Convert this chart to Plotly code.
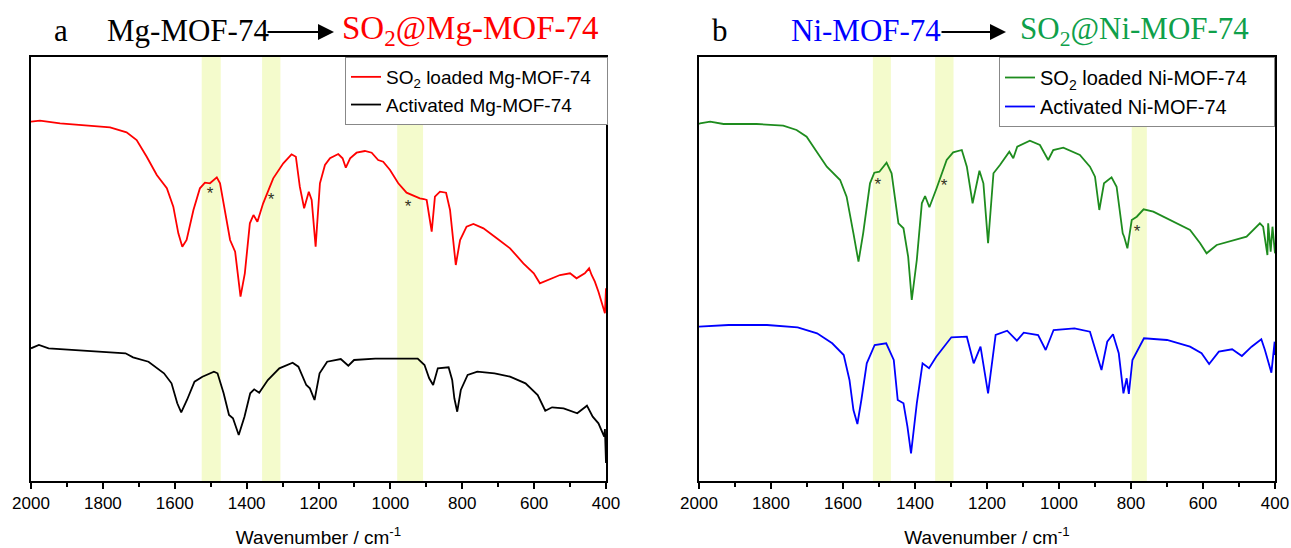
import plotly.graph_objects as go

# ---------------- data (wavenumber / cm-1, transmittance a.u.) ----------------
wn_mg_so2 = [2000, 1975, 1919, 1845, 1780, 1734, 1706, 1678, 1650, 1622, 1604, 1590, 1579, 1567, 1548,
             1530, 1516, 1502, 1483, 1474, 1460, 1446, 1432, 1417, 1405, 1391, 1381, 1370, 1354, 1326,
             1298, 1275, 1263, 1252, 1240, 1227, 1219, 1208, 1196, 1182, 1168, 1145, 1133, 1124, 1112,
             1094, 1071, 1052, 1034, 1020, 1001, 978, 955, 932, 918, 907, 899, 885, 876, 862, 845, 834,
             818, 806, 788, 769, 741, 704, 667, 630, 601, 584, 556, 528, 500, 482, 459, 447, 440, 431,
             421, 412, 403, 400]
t_mg_so2 = [359.3, 360.3, 357.7, 355.7, 353.7, 348.7, 341, 324.3, 306, 292.7, 274.3, 247.7, 234.3, 241, 271,
            292.7, 298.3, 297.7, 303.7, 297.7, 267.7, 241, 229.3, 184.3, 207.7, 257.7, 266, 259.3, 277.7, 302.7,
            317.7, 326.7, 324.3, 294.3, 272.7, 289.3, 281, 234.3, 297.7, 316, 322.7, 327, 322.7, 313.3, 322.7,
            328.3, 330, 328.3, 321, 319.3, 311, 297.7, 288.3, 285, 282.7, 282, 281, 249.3, 284.3, 289.3, 288.3, 271,
            216, 241, 254.3, 257, 252.7, 242.7, 232.7, 217.7, 207.7, 197.7, 201.7, 206, 207.7, 202.7, 207.7, 212.7, 206, 199.3,
            189.3, 179.3, 167.7, 192.7]

wn_mg_act = [2000, 1978, 1951, 1844, 1737, 1716, 1673, 1630, 1609, 1593, 1582, 1566, 1545, 1523, 1491,
             1481, 1464, 1449, 1438, 1422, 1406, 1390, 1379, 1365, 1341, 1309, 1272, 1256, 1234, 1224,
             1211, 1197, 1176, 1138, 1117, 1101, 1042, 924, 905, 892, 881, 868, 838, 828, 822, 814, 804,
             785, 758, 710, 667, 624, 590, 569, 550, 518, 480, 453, 437, 421, 405, 403, 402, 401, 400]
t_mg_act = [132.7, 136, 132.7, 130, 127.7, 123.7, 119.3, 107.7, 97.7, 77.7, 68.7, 81, 99.3, 104.3, 109.3,
            107.7, 87.7, 66, 62.7, 46, 64.3, 87.7, 91.7, 88.3, 101, 112.7, 118.3, 114.3, 96, 92.7,
            81, 107.7, 119.3, 122, 115.3, 121, 122.3, 122.3, 116, 102.7, 96, 112.7, 113.7, 101, 82.7, 69.3, 91,
            106, 109.3, 107.7, 104.3, 97.7, 86, 70.3, 73.7, 72.7, 67.7, 75.3, 64.3, 57.7, 44.3, 52, 40, 30, 18]

wn_ni_so2 = [2000, 1997, 1969, 1932, 1840, 1766, 1729, 1701, 1673, 1645, 1608, 1590, 1571, 1557, 1544,
             1525, 1513, 1499, 1479, 1465, 1446, 1432, 1419, 1409, 1395, 1381, 1372, 1360, 1340, 1312,
             1294, 1270, 1256, 1240, 1221, 1210, 1197, 1182, 1164, 1138, 1127, 1116, 1081, 1053, 1030,
             1016, 988, 942, 914, 900, 888, 875, 854, 840, 823, 819, 810, 798, 784, 765, 738, 682, 636,
             608, 590, 562, 516, 479, 442, 433, 421, 419, 412, 407, 400]
t_ni_so2 = [357, 357.7, 359.3, 357, 357, 355.3, 351, 344.3, 329.3, 314.3, 301, 284.3, 247.7, 219.3, 247.7,
            297.7, 308.3, 309.3, 318.3, 307.7, 257.7, 252.7, 224.3, 181, 221, 277.7, 285, 273.7, 292.7, 321,
            328.7, 331, 314.3, 277.7, 310.3, 297.7, 237.7, 307.7, 316, 329.3, 322.7, 334.3, 340.3, 336, 321,
            331, 333.3, 326, 314.3, 304.3, 271, 297.7, 303.7, 294.3, 247.7, 244.3, 232.7, 261, 264.3, 271.7, 269.3, 259.3, 251,
            237.7, 227.7, 236, 241, 244.3, 257.7, 254.3, 226, 257.7, 229.3, 254.3, 227.7]

wn_ni_act = [2000, 1918, 1811, 1726, 1672, 1630, 1598, 1582, 1571, 1560, 1549, 1534, 1512, 1480, 1459,
             1448, 1432, 1421, 1411, 1395, 1379, 1361, 1341, 1299, 1256, 1237, 1218, 1197, 1176, 1144,
             1117, 1098, 1058, 1037, 1015, 957, 914, 882, 866, 850, 834, 821, 812, 806, 796, 764, 700,
             636, 604, 583, 556, 519, 492, 465, 438, 428, 410, 401, 400]
t_ni_act = [154.3, 156, 156, 153.7, 147.7, 137.7, 126, 101, 71, 57, 81, 117.7, 136, 137.7, 121,
            81, 77.7, 54.3, 27.7, 77.7, 117.7, 112.7, 124.3, 143.7, 144.3, 117.7, 134.3, 87.7, 146, 150.3,
            140.3, 148.3, 146, 131, 151, 152.7, 149.3, 111, 139.3, 146.7, 127.7, 87.7, 102.7, 87, 121, 142.7, 141,
            134.3, 127.7, 117, 129.3, 131.7, 125, 134.3, 141.7, 131, 108.3, 139.3, 126]

bands_mg = [(1525, 1472), (1357, 1306), (981, 909)]
bands_ni = [(1517, 1467), (1344, 1293), (798, 756)]

star_mg_wn = [1502, 1332, 951]
star_mg_t = [286, 280, 273]
star_ni_wn = [1503, 1319, 783]
star_ni_t = [295, 294, 248]

names = ["SO<sub>2</sub> loaded Mg-MOF-74", "Activated Mg-MOF-74",
         "SO<sub>2</sub> loaded Ni-MOF-74", "Activated Ni-MOF-74"]

# ---------------- figure ----------------
W, H = 1291, 548
NB = "\u00a0"   # invisible padding so the legend box reaches the axis like the original
fig = go.Figure()

fig.add_trace(go.Scatter(x=wn_mg_so2, y=t_mg_so2, mode="lines", name=names[0] + NB * 2,
                         line=dict(color="#FF0000", width=1.8), xaxis="x", yaxis="y", legend="legend"))
fig.add_trace(go.Scatter(x=wn_mg_act, y=t_mg_act, mode="lines", name=names[1],
                         line=dict(color="#000000", width=1.8), xaxis="x", yaxis="y", legend="legend"))
fig.add_trace(go.Scatter(x=wn_ni_so2, y=t_ni_so2, mode="lines", name=names[2] + NB * 4,
                         line=dict(color="#1E8C1E", width=1.8), xaxis="x2", yaxis="y2", legend="legend2"))
fig.add_trace(go.Scatter(x=wn_ni_act, y=t_ni_act, mode="lines", name=names[3],
                         line=dict(color="#0000FF", width=1.8), xaxis="x2", yaxis="y2", legend="legend2"))

fig.add_trace(go.Scatter(x=star_mg_wn, y=star_mg_t, mode="text", text=["*"] * 3, showlegend=False,
                         textfont=dict(family="Liberation Sans, Arial", size=17, color="#333322"),
                         xaxis="x", yaxis="y", hoverinfo="skip"))
fig.add_trace(go.Scatter(x=star_ni_wn, y=star_ni_t, mode="text", text=["*"] * 3, showlegend=False,
                         textfont=dict(family="Liberation Sans, Arial", size=17, color="#333322"),
                         xaxis="x2", yaxis="y2", hoverinfo="skip"))

band_color = "rgb(244,251,204)"
shapes = []
for (a0, a1) in bands_mg:
    shapes.append(dict(type="rect", xref="x", yref="y domain", x0=a0, x1=a1, y0=0, y1=1,
                       fillcolor=band_color, line=dict(width=0), layer="below"))
for (a0, a1) in bands_ni:
    shapes.append(dict(type="rect", xref="x2", yref="y2 domain", x0=a0, x1=a1, y0=0, y1=1,
                       fillcolor=band_color, line=dict(width=0), layer="below"))

def px(x):
    return x / W

def py(y):
    return (H - y) / H

ydom = [py(481), py(57)]
tickfont = dict(family="Liberation Sans, Arial", size=17, color="#000")
axis_common = dict(range=[2000, 400], showline=True, linecolor="#000", linewidth=1.5, mirror=True,
                   ticks="outside", ticklen=6, tickwidth=1.5, tickcolor="#000", dtick=200, tick0=0,
                   minor=dict(dtick=100, ticks="outside", ticklen=4, tickwidth=1.5, tickcolor="#000"),
                   showgrid=False, zeroline=False, tickfont=tickfont, automargin=False,
                   title=dict(text="Wavenumber / cm<sup>-1</sup>",
                              font=dict(family="Liberation Sans, Arial", size=19, color="#000"),
                              standoff=23))
yaxis_common = dict(range=[0, 424], showline=True, linecolor="#000", linewidth=1.5, mirror=True,
                    showticklabels=False, ticks="", showgrid=False, zeroline=False, domain=ydom,
                    automargin=False)

fig.update_layout(
    width=W, height=H, margin=dict(l=0, r=0, t=0, b=0, autoexpand=False),
    paper_bgcolor="white", plot_bgcolor="white",
    xaxis=dict(domain=[px(31), px(606)], anchor="y", **axis_common),
    yaxis=dict(anchor="x", **yaxis_common),
    xaxis2=dict(domain=[px(699), px(1275)], anchor="y2", **axis_common),
    yaxis2=dict(anchor="x2", **yaxis_common),
    shapes=shapes,
    legend=dict(x=px(345), y=py(57), xanchor="left", yanchor="top", bgcolor="white",
                bordercolor="#888", borderwidth=1, tracegroupgap=0,
                font=dict(family="Liberation Sans, Arial", size=19, color="#000")),
    legend2=dict(x=px(999), y=py(57), xanchor="left", yanchor="top", bgcolor="white",
                 bordercolor="#888", borderwidth=1, tracegroupgap=0,
                 font=dict(family="Liberation Sans, Arial", size=20, color="#000")),
    showlegend=True,
)

serif = "Liberation Serif, Times New Roman"
ty = py(31)
ann = [
    dict(text="a", x=px(61), y=ty, xanchor="center", color="#000", size=31),
    dict(text="Mg-MOF-74", x=px(105), y=ty, xanchor="left", color="#000", size=31),
    dict(text="SO<sub>2</sub>@Mg-MOF-74", x=px(340), y=ty, xanchor="left", color="#FF0000", size=33),
    dict(text="b", x=px(720), y=ty, xanchor="center", color="#000", size=31),
    dict(text="Ni-MOF-74", x=px(789), y=ty, xanchor="left", color="#0000FF", size=31),
    dict(text="SO<sub>2</sub>@Ni-MOF-74", x=px(1018), y=ty, xanchor="left", color="#0FA04A", size=31),
]
annotations = []
for a in ann:
    annotations.append(dict(text=a["text"], x=a["x"], y=a["y"], xref="paper", yref="paper",
                            xanchor=a["xanchor"], yanchor="middle", showarrow=False,
                            font=dict(family=serif, size=a["size"], color=a["color"])))
# arrows
for (x0, x1) in [(266, 334), (940, 1006)]:
    annotations.append(dict(text="", x=px(x1), y=py(32), xref="paper", yref="paper",
                            ax=-(x1 - x0), ay=0, showarrow=True, arrowhead=2, arrowsize=1.6,
                            arrowwidth=2, arrowcolor="#000"))
fig.update_layout(annotations=annotations)

# remove the default page margin so the figure fills the window exactly
fig.write_html("out.html", config={"displayModeBar": False},
               post_script="document.body.style.margin='0';document.body.style.overflow='hidden';")
